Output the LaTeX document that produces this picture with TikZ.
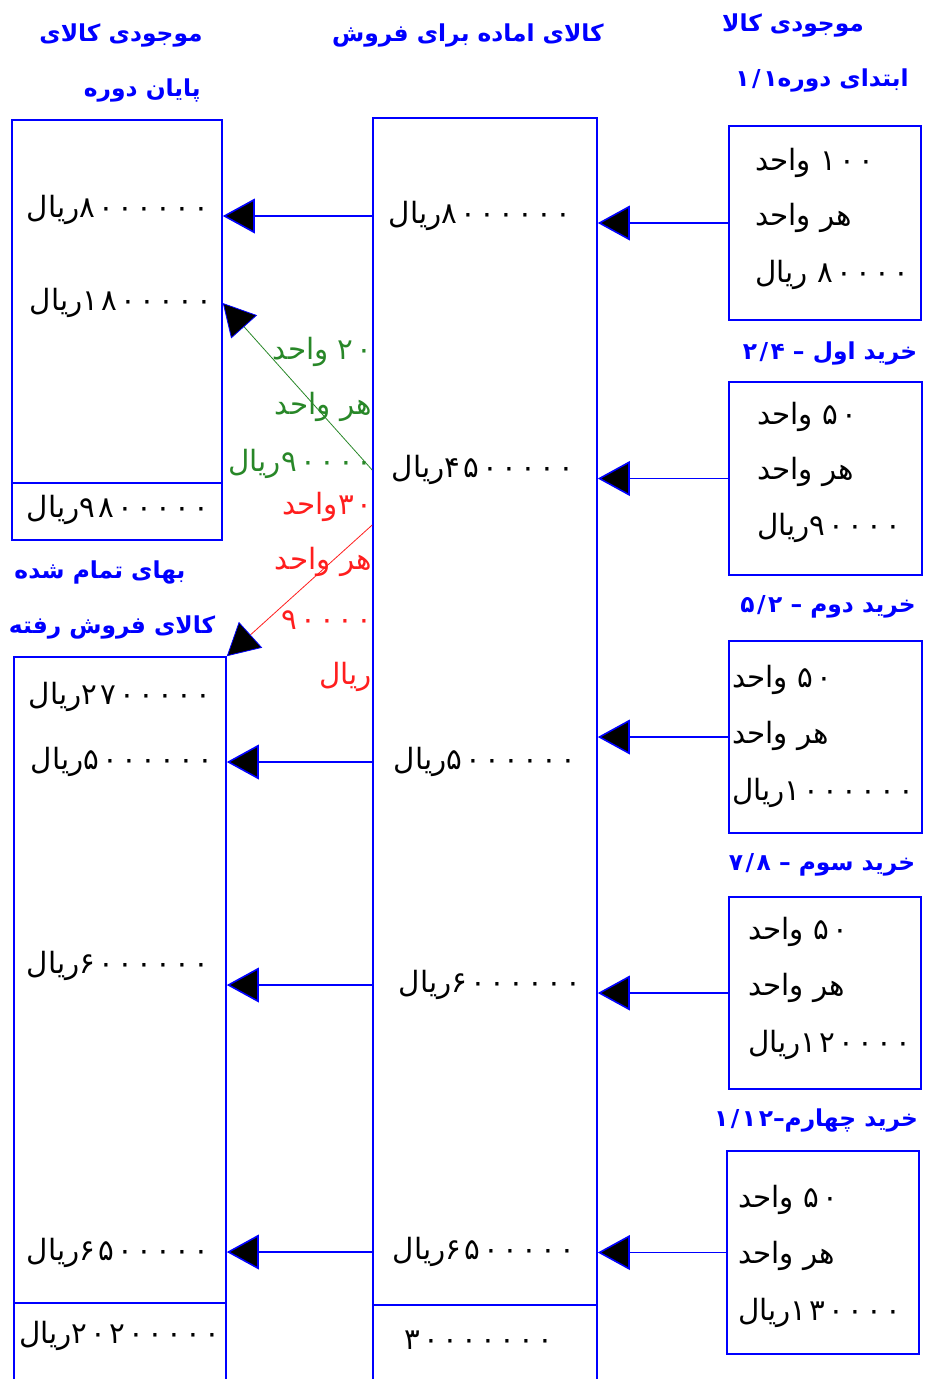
\documentclass[tikz,border=0pt]{standalone}
\usepackage{fontspec}
\usetikzlibrary{arrows.meta,fit}
\TeXXeTstate=1
\newfontfamily\arabicfont[Script=Arabic]{DejaVu Sans}
\newfontfamily\digitfont[LetterSpace=11]{DejaVu Sans}
\newcommand{\fa}[1]{{\arabicfont\beginR #1\endR}}
\newcommand{\fanum}[1]{{\digitfont #1}}
\definecolor{sheetblue}{RGB}{0,0,255}
\definecolor{sheetgreen}{RGB}{40,135,40}
\definecolor{sheetred}{RGB}{255,30,30}
\newcommand{\sheetbox}[5]
{
\path (#2,#3) coordinate (#1-a) (#4,#5) coordinate (#1-b);
\node[box, fit=(#1-a)(#1-b)] (#1) {};
}

\begin{document}
\begin{tikzpicture}[x=0.75pt, y=-0.75pt,
  box/.style={draw=sheetblue, line width=1.2pt, inner sep=0pt},
  head/.style={text=sheetblue, font=\fontsize{17.5}{20}\selectfont\bfseries, inner sep=0pt},
  money/.style={font=\fontsize{22}{24}\selectfont, inner sep=0pt},
  flow/.style={draw=sheetblue, line width=1.2pt, ->},
  >={Triangle[length=24pt, width=26pt, fill=black, color=sheetblue]},
  ]
  \useasboundingbox (0,0) rectangle (935,1379);
  \clip (0,0) rectangle (935,1379);

  % boxes
  \sheetbox{endinv}{12}{120}{222}{540}
  \draw[box] (12,483) -- (222,483);
  \sheetbox{cogs}{14}{657}{226}{1420}
  \draw[box] (14,1303) -- (226,1303);
  \sheetbox{ready}{373}{118}{597}{1420}
  \draw[box] (373,1305) -- (597,1305);
  \sheetbox{open}{729}{126}{921}{320}
  \sheetbox{buy1}{729}{382}{922}{575}
  \sheetbox{buy2}{729}{641}{922}{833}
  \sheetbox{buy3}{729}{897}{921}{1089}
  \sheetbox{buy4}{727}{1151}{919}{1354}

  % headings
  \node[head] (hend1) at (121,35) {\fa{موجودی کالای}};
  \node[head, anchor=east] (hend2) at (201,90) {\fa{پایان دوره}};
  \node[head] (hready) at (468,35) {\fa{کالای اماده برای فروش}};
  \node[head] (hopen1) at (793,25) {\fa{موجودی کالا}};
  \node[head] (hopen2) at (822,80) {\fa{ابتدای دوره\fanum{۱/۱}}};
  \node[head] (hbuy1) at (830,353) {\fa{خرید اول – \fanum{۲/۴}}};
  \node[head] (hbuy2) at (828,607) {\fa{خرید دوم – \fanum{۵/۲}}};
  \node[head] (hbuy3) at (822,865) {\fa{خرید سوم – \fanum{۷/۸}}};
  \node[head] (hbuy4) at (816,1120) {\fa{خرید چهارم–\fanum{۱/۱۲}}};
  \node[head] (hcogs1) at (100,572) {\fa{بهای تمام شده}};
  \node[head] (hcogs2) at (112,627) {\fa{کالای فروش رفته}};

  % opening stock and purchases
  \node[money, anchor=west] (o1) at (755,163) {\fa{\fanum{۱۰۰} واحد}};
  \node[money, anchor=west] (o2) at (755,218) {\fa{هر واحد}};
  \node[money, anchor=west] (o3) at (755,275) {\fa{\fanum{۸۰۰۰۰} ریال}};
  \node[money, anchor=west] (p11) at (757,417) {\fa{\fanum{۵۰} واحد}};
  \node[money, anchor=west] (p12) at (757,472) {\fa{هر واحد}};
  \node[money, anchor=west] (p13) at (757,528) {\fa{\fanum{۹۰۰۰۰}ریال}};
  \node[money, anchor=west] (p21) at (732,680) {\fa{\fanum{۵۰} واحد}};
  \node[money, anchor=west] (p22) at (732,736) {\fa{هر واحد}};
  \node[money, anchor=west] (p23) at (732,793) {\fa{\fanum{۱۰۰۰۰۰۰}ریال}};
  \node[money, anchor=west] (p31) at (748,932) {\fa{\fanum{۵۰} واحد}};
  \node[money, anchor=west] (p32) at (748,988) {\fa{هر واحد}};
  \node[money, anchor=west] (p33) at (748,1045) {\fa{\fanum{۱۲۰۰۰۰}ریال}};
  \node[money, anchor=west] (p41) at (738,1200) {\fa{\fanum{۵۰} واحد}};
  \node[money, anchor=west] (p42) at (738,1256) {\fa{هر واحد}};
  \node[money, anchor=west] (p43) at (738,1313) {\fa{\fanum{۱۳۰۰۰۰}ریال}};

  % goods available for sale
  \node[money] (r1) at (480,216) {\fa{\fanum{۸۰۰۰۰۰۰}ریال}};
  \node[money] (r2) at (483,470) {\fa{\fanum{۴۵۰۰۰۰۰}ریال}};
  \node[money] (r3) at (485,762) {\fa{\fanum{۵۰۰۰۰۰۰}ریال}};
  \node[money] (r4) at (490,985) {\fa{\fanum{۶۰۰۰۰۰۰}ریال}};
  \node[money] (r5) at (484,1252) {\fa{\fanum{۶۵۰۰۰۰۰}ریال}};
  \node[money] (rsum) at (479,1340) {\fa{\fanum{۳۰۰۰۰۰۰۰}}};

  % ending stock and cost of goods sold
  \node[money] (e1) at (118,210) {\fa{\fanum{۸۰۰۰۰۰۰}ریال}};
  \node[money] (e2) at (121,303) {\fa{\fanum{۱۸۰۰۰۰۰}ریال}};
  \node[money] (esum) at (118,510) {\fa{\fanum{۹۸۰۰۰۰۰}ریال}};
  \node[money] (c1) at (120,697) {\fa{\fanum{۲۷۰۰۰۰۰}ریال}};
  \node[money] (c2) at (122,762) {\fa{\fanum{۵۰۰۰۰۰۰}ریال}};
  \node[money] (c3) at (118,966) {\fa{\fanum{۶۰۰۰۰۰۰}ریال}};
  \node[money] (c4) at (118,1253) {\fa{\fanum{۶۵۰۰۰۰۰}ریال}};
  \node[money] (csum) at (120,1336) {\fa{\fanum{۲۰۲۰۰۰۰۰}ریال}};

  % split of the second layer
  \node[money, text=sheetgreen, anchor=east] (g1) at (373,352) {\fa{\fanum{۲۰} واحد}};
  \node[money, text=sheetgreen, anchor=east] (g2) at (372,407) {\fa{هر واحد}};
  \node[money, text=sheetgreen, anchor=east] (g3) at (373,464) {\fa{\fanum{۹۰۰۰۰}ریال}};
  \node[money, text=sheetred, anchor=east] (d1) at (373,507) {\fa{\fanum{۳۰}واحد}};
  \node[money, text=sheetred, anchor=east] (d2) at (372,562) {\fa{هر واحد}};
  \node[money, text=sheetred, anchor=east] (d3) at (373,620) {\fa{\fanum{۹۰۰۰۰}}};
  \node[money, text=sheetred, anchor=east] (d4) at (372,677) {\fa{ریال}};
  \coordinate (redstart) at (373,525);

  % flows
  \draw[flow] (open.west) -- (ready.east |- open.west);
  \draw[flow] (buy1.west) -- (ready.east |- buy1.west);
  \draw[flow] (buy2.west) -- (ready.east |- buy2.west);
  \draw[flow] (buy3.west) -- (ready.east |- buy3.west);
  \draw[flow] (buy4.west) -- (ready.east |- buy4.west);
  \draw[flow] (ready.west |- r1) -- (endinv.east |- r1);
  \draw[flow] (ready.west |- r3) -- (cogs.east |- r3);
  \draw[flow] (ready.west |- r4) -- (cogs.east |- r4);
  \draw[flow] (ready.west |- r5) -- (cogs.east |- r5);
  \draw[->, sheetgreen, line width=0.6pt] (ready.west |- r2) -- (endinv.east |- e2);
  \draw[->, sheetred, line width=0.6pt] (ready.west |- redstart) -- (cogs.north east);
\end{tikzpicture}
\end{document}
